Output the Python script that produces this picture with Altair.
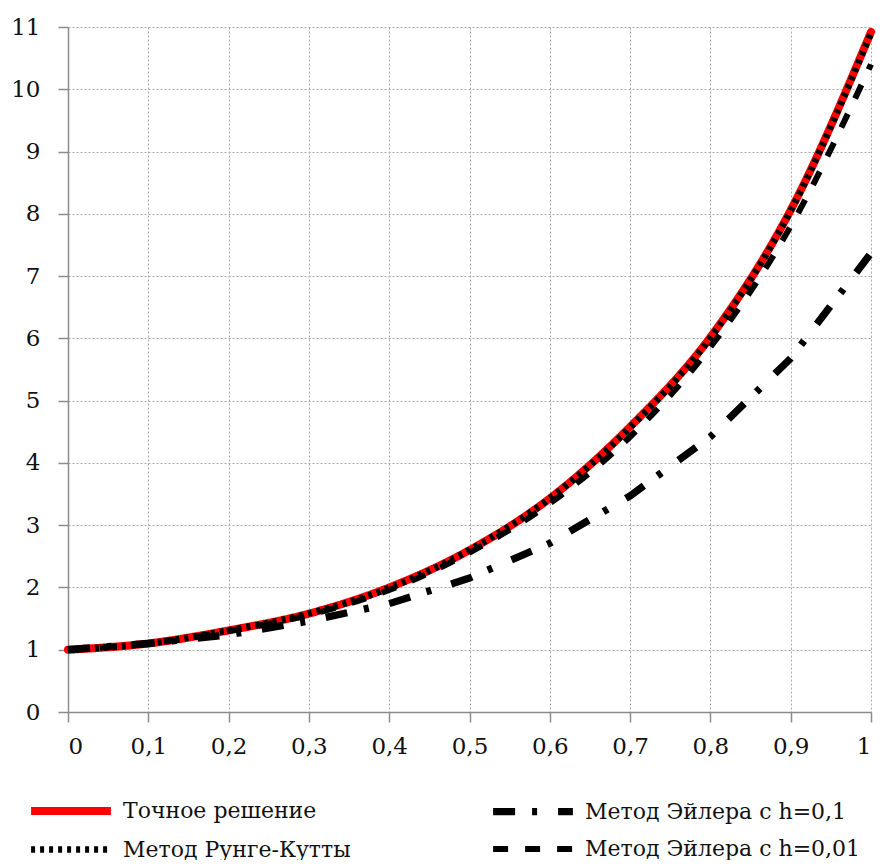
import altair as alt
import pandas as pd

x_vals = [0.0, 0.1, 0.2, 0.3, 0.4, 0.5, 0.6, 0.7, 0.8, 0.9, 1.0]
exact = [1.0, 1.10, 1.31, 1.58, 2.0, 2.6, 3.43, 4.58, 6.02, 8.06, 10.92]
runge_kutta = [1.0, 1.10, 1.31, 1.58, 1.99, 2.6, 3.43, 4.57, 6.01, 8.05, 10.9]
euler_01 = [1.0, 1.10, 1.24, 1.46, 1.74, 2.15, 2.71, 3.47, 4.42, 5.68, 7.37]
euler_001 = [1.0, 1.10, 1.30, 1.56, 1.96, 2.56, 3.35, 4.42, 5.86, 7.80, 10.4]

names = ["Точное решение", "Метод Эйлера с h=0,1", "Метод Рунге-Кутты", "Метод Эйлера с h=0,01"]
series = {
    names[0]: exact,
    names[1]: euler_01,
    names[2]: runge_kutta,
    names[3]: euler_001,
}

rows = []
for name, ys in series.items():
    for xv, yv in zip(x_vals, ys):
        rows.append({"x": xv, "y": yv, "method": name})
df = pd.DataFrame(rows)

FONT = "DejaVu Serif"

color_scale = alt.Scale(domain=names, range=["#ff0000", "#000000", "#000000", "#000000"])
dash_scale = alt.Scale(domain=names, range=[[1, 0], [22, 17, 5, 21], [4, 5], [15, 17]])
width_scale = alt.Scale(domain=names, range=[8, 6, 5, 6])

legend = alt.Legend(
    title=None,
    orient="none",
    direction="horizontal",
    legendX=-20,
    legendY=761,
    columns=2,
    columnPadding=127,
    rowPadding=0,
    symbolType="M-2.1,0H2.1",
    symbolSize=1444,
    labelFont=FONT,
    labelFontSize=22,
    labelColor="#111111",
    labelLimit=500,
    labelOffset=29,
    padding=0,
)

base = alt.Chart(df).encode(
    x=alt.X(
        "x:Q",
        scale=alt.Scale(domain=[0, 1], nice=False),
        axis=alt.Axis(
            values=x_vals,
            labelExpr="replace(format(datum.value, '~g'), '.', ',')",
            title=None,
            labelPadding=13,
        ),
    ),
    y=alt.Y(
        "y:Q",
        scale=alt.Scale(domain=[0, 11], nice=False),
        axis=alt.Axis(values=list(range(0, 12)), title=None, labelPadding=18),
    ),
    color=alt.Color("method:N", scale=color_scale, legend=legend),
    strokeDash=alt.StrokeDash("method:N", scale=dash_scale, legend=legend),
    strokeWidth=alt.StrokeWidth("method:N", scale=width_scale, legend=legend),
)

layer_exact = base.transform_filter(alt.datum.method == names[0]).mark_line(interpolate="monotone", strokeCap="round")
layer_e001 = base.transform_filter(alt.datum.method == names[3]).mark_line(interpolate="monotone")
layer_e01 = base.transform_filter(alt.datum.method == names[1]).mark_line(interpolate="linear")
layer_rk = base.transform_filter(alt.datum.method == names[2]).mark_line(interpolate="monotone")

chart = (
    alt.layer(layer_exact, layer_e001, layer_e01, layer_rk)
    .properties(
        width=803,
        height=685,
        autosize=alt.AutoSizeParams(type="none"),
        padding={"left": 60, "top": 19, "right": 9, "bottom": 148},
    )
    .configure(font=FONT)
    .configure_view(stroke=None)
    .configure_axis(
        labelFont=FONT,
        labelFontSize=23,
        labelColor="#111111",
        domainColor="#8c8c8c",
        domainWidth=1.5,
        tickColor="#8c8c8c",
        tickWidth=1.5,
        tickSize=10,
        gridColor="#a8a8a8",
        gridDash=[2, 2],
        gridWidth=1,
    )
)

chart.save("out.html", embed_options={"renderer": "svg", "actions": False})
